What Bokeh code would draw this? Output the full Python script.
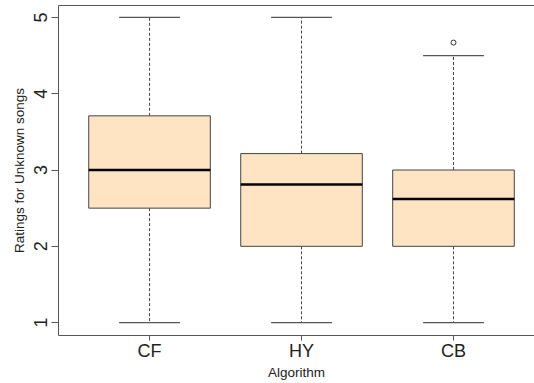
import math
from bokeh.plotting import figure
from bokeh.models import LinearAxis, FixedTicker, Range1d, ColumnDataSource
from bokeh.embed import file_html
from bokeh.resources import INLINE

algorithms = ["CF", "HY", "CB"]
lower_whisker = [1.0, 1.0, 1.0]
q1 = [2.5, 2.0, 2.0]
median = [3.0, 2.81, 2.62]
q3 = [3.71, 3.215, 3.0]
upper_whisker = [5.0, 5.0, 4.5]
outlier_alg = ["CB"]
outlier_val = [4.67]
y_ticks = [1, 2, 3, 4, 5]

pos = [i + 1 for i in range(len(algorithms))]
box_w = 0.8
cap_w = 0.4

src = ColumnDataSource(dict(
    x=pos,
    lo=lower_whisker, q1=q1, med=median, q3=q3, hi=upper_whisker,
    bl=[x - box_w / 2 for x in pos], br=[x + box_w / 2 for x in pos],
    cl=[x - cap_w / 2 for x in pos], cr=[x + cap_w / 2 for x in pos],
))

FONT = "Liberation Sans"
AXC = "#555555"

p = figure(width=534, height=382, output_backend="svg", toolbar_location=None,
           x_range=Range1d(0.401, 3.533), y_range=Range1d(0.831, 5.156),
           min_border_left=58, min_border_right=0, min_border_top=5,
           min_border_bottom=45, x_axis_location=None, y_axis_location=None)
p.outline_line_color = None
p.xgrid.visible = False
p.ygrid.visible = False
p.background_fill_color = "white"
p.border_fill_color = "white"

# whiskers
p.segment(x0="x", y0="q3", x1="x", y1="hi", source=src, line_color="#444444",
          line_dash="3 2", line_width=1)
p.segment(x0="x", y0="q1", x1="x", y1="lo", source=src, line_color="#444444",
          line_dash="3 2", line_width=1)
# caps
p.segment(x0="cl", y0="hi", x1="cr", y1="hi", source=src, line_color="#555555", line_width=1.2)
p.segment(x0="cl", y0="lo", x1="cr", y1="lo", source=src, line_color="#555555", line_width=1.2)
# boxes
p.vbar(x="x", width=box_w, bottom="q1", top="q3", source=src,
       fill_color="#FFE4C4", line_color="#444444", line_width=1)
# medians
p.segment(x0="bl", y0="med", x1="br", y1="med", source=src, line_color="black", line_width=2.5)
# outliers
p.scatter(x=[pos[algorithms.index(a)] for a in outlier_alg], y=outlier_val,
          marker="circle", size=5, fill_color=None, line_color="#333333", line_width=1)

yax = LinearAxis(ticker=FixedTicker(ticks=y_ticks), axis_label="Ratings for Unknown songs")
yax.major_label_orientation = "vertical"
yax.major_label_text_font = FONT
yax.major_label_text_font_size = "18px"
yax.major_label_text_color = "#222222"
yax.axis_label_text_font = FONT
yax.axis_label_text_font_size = "13.5px"
yax.axis_label_text_font_style = "normal"
yax.axis_label_text_color = "#222222"
yax.major_tick_out = 7
yax.major_tick_in = 0
yax.minor_tick_line_color = None
yax.major_label_standoff = 4
yax.axis_label_standoff = 5
yax.axis_line_color = AXC
yax.major_tick_line_color = AXC
p.add_layout(yax, "left")

xax = LinearAxis(ticker=FixedTicker(ticks=pos), axis_label="Algorithm")
xax.major_label_overrides = {x: a for x, a in zip(pos, algorithms)}
xax.major_label_text_font = FONT
xax.major_label_text_font_size = "18px"
xax.major_label_text_color = "#222222"
xax.axis_label_text_font = FONT
xax.axis_label_text_font_size = "13.5px"
xax.axis_label_text_font_style = "normal"
xax.axis_label_text_color = "#222222"
xax.major_tick_out = 5
xax.major_tick_in = 0
xax.minor_tick_line_color = None
xax.major_label_standoff = 0
xax.axis_label_standoff = 1
xax.axis_line_color = AXC
xax.major_tick_line_color = AXC
p.add_layout(xax, "below")

top = LinearAxis(ticker=FixedTicker(ticks=[]))
top.major_label_text_font_size = "0px"
top.major_tick_line_color = None
top.minor_tick_line_color = None
top.major_label_standoff = 0
top.axis_line_color = AXC
p.add_layout(top, "above")

open("out.html", "w").write(file_html(p, INLINE))
